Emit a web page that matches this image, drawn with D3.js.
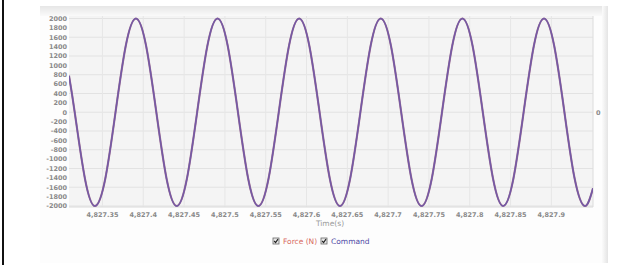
<!DOCTYPE html>
<html>
<head>
<meta charset="utf-8">
<script src="https://cdn.jsdelivr.net/npm/d3@7"></script>
<style>
  body { margin: 0; background: #fff; }
  svg { display: block; font-family: "DejaVu Sans", sans-serif; }
  .tick-label { font-size: 6.5px; font-weight: bold; fill: #8a8a8a; }
</style>
</head>
<body>
<div class="svg-wrapper"></div>
<script>
// values (time in s, value in N)
const times = [
  4827.309, 4827.316, 4827.3285, 4827.341, 4827.3535, 4827.366, 4827.3785,
  4827.391, 4827.4035, 4827.416, 4827.4285, 4827.441, 4827.4535, 4827.466, 4827.4785,
  4827.491, 4827.5035, 4827.516, 4827.5285, 4827.541, 4827.5535, 4827.566, 4827.5785,
  4827.591, 4827.6035, 4827.616, 4827.6285, 4827.641, 4827.6535, 4827.666, 4827.6785,
  4827.691, 4827.7035, 4827.716, 4827.7285, 4827.741, 4827.7535, 4827.766, 4827.7785,
  4827.791, 4827.8035, 4827.816, 4827.8285, 4827.841, 4827.8535, 4827.866, 4827.8785,
  4827.891, 4827.9035, 4827.916, 4827.9285, 4827.941, 4827.951
];
const command = [
  780, 0, -1414, -2000, -1414, 0, 1414,
  2000, 1414, 0, -1414, -2000, -1414, 0, 1414,
  2000, 1414, 0, -1414, -2000, -1414, 0, 1414,
  2000, 1414, 0, -1414, -2000, -1414, 0, 1414,
  2000, 1414, 0, -1414, -2000, -1414, 0, 1414,
  2000, 1414, 0, -1414, -2000, -1414, 0, 1414,
  2000, 1414, 0, -1414, -2000, -1620
];
const force = command.slice();

const xTicks = [4827.35, 4827.4, 4827.45, 4827.5, 4827.55, 4827.6, 4827.65, 4827.7, 4827.75, 4827.8, 4827.85, 4827.9];
const yTicks = d3.range(-2000, 2001, 200);
const yGrid = d3.range(-2000, 2001, 400);

const svg = d3.select(".svg-wrapper")
  .append("svg")
  .attr("width", 642)
  .attr("height", 265);

// left border line
svg.append("rect").attr("x", 2).attr("y", 0).attr("width", 2).attr("height", 265).attr("fill", "#111");

// card
const defs = svg.append("defs");
const grad = defs.append("linearGradient").attr("id", "topshade").attr("x1", 0).attr("x2", 0).attr("y1", 0).attr("y2", 1);
grad.append("stop").attr("offset", "0%").attr("stop-color", "#e6e6e6");
grad.append("stop").attr("offset", "100%").attr("stop-color", "#fafafa");
const sideGrad = defs.append("linearGradient").attr("id", "sideshade").attr("x1", 0).attr("x2", 1).attr("y1", 0).attr("y2", 0);
sideGrad.append("stop").attr("offset", "0%").attr("stop-color", "#fbfbfb");
sideGrad.append("stop").attr("offset", "100%").attr("stop-color", "#e4e4e4");

svg.append("rect").attr("x", 40).attr("y", 6).attr("width", 568).attr("height", 257).attr("fill", "#fdfdfd");
svg.append("rect").attr("x", 40).attr("y", 6).attr("width", 568).attr("height", 10).attr("fill", "url(#topshade)");
svg.append("rect").attr("x", 602).attr("y", 6).attr("width", 6).attr("height", 257).attr("fill", "url(#sideshade)");

const x = d3.scaleLinear().domain([4827.309, 4827.951]).range([69, 593]);
const y = d3.scaleLinear().domain([-2000, 2000]).range([206, 18.5]);

// plot background
svg.append("rect").attr("x", 69).attr("y", 16).attr("width", 524).attr("height", 191).attr("fill", "#f4f4f4");

const g = svg.append("g");

g.selectAll(".hgrid").data(yGrid).enter().append("line")
  .attr("x1", 69).attr("x2", 593)
  .attr("y1", d => y(d)).attr("y2", d => y(d))
  .attr("stroke", "#e2e2e2").attr("stroke-width", 1);

g.selectAll(".vgrid").data(xTicks).enter().append("line")
  .attr("x1", d => x(d)).attr("x2", d => x(d))
  .attr("y1", 16).attr("y2", 207)
  .attr("stroke", "#e6e6e6").attr("stroke-width", 1);

g.append("line").attr("x1", 593).attr("x2", 593).attr("y1", 16).attr("y2", 207)
  .attr("stroke", "#dcdcdc");
g.append("line").attr("x1", 69).attr("x2", 593).attr("y1", 207).attr("y2", 207)
  .attr("stroke", "#dadada");

// y tick labels
g.selectAll(".ylab").data(yTicks).enter().append("text")
  .attr("class", "tick-label")
  .attr("x", 67)
  .attr("y", d => y(d))
  .attr("dy", "0.35em")
  .attr("text-anchor", "end")
  .text(d => d);

// right axis
g.append("text").attr("class", "tick-label")
  .attr("x", 596).attr("y", y(0)).attr("dy", "0.35em")
  .text("0");

// x tick labels
g.selectAll(".xlab").data(xTicks).enter().append("text")
  .attr("class", "tick-label")
  .attr("x", d => x(d))
  .attr("y", 215)
  .attr("dy", "0.35em")
  .attr("text-anchor", "middle")
  .text(d => d3.format(",")(d));

g.append("text")
  .attr("x", 330).attr("y", 223).attr("dy", "0.35em")
  .attr("text-anchor", "middle")
  .attr("fill", "#9a9a9a")
  .style("font-size", "7.5px")
  .text("Time(s)");

// lines
const rows = times.map((t, i) => ({t: t, c: command[i], f: force[i]}));
const clip = defs.append("clipPath").attr("id", "plotclip");
clip.append("rect").attr("x", 69).attr("y", 10).attr("width", 524).attr("height", 200);

const lineForce = d3.line().x(d => x(d.t)).y(d => y(d.f)).curve(d3.curveNatural);
const lineCommand = d3.line().x(d => x(d.t)).y(d => y(d.c)).curve(d3.curveNatural);

g.append("path")
  .attr("d", lineForce(rows))
  .attr("clip-path", "url(#plotclip)")
  .attr("fill", "none")
  .attr("stroke", "#a07090")
  .attr("stroke-width", 2.1);

g.append("path")
  .attr("d", lineCommand(rows))
  .attr("clip-path", "url(#plotclip)")
  .attr("fill", "none")
  .attr("stroke", "#7359a6")
  .attr("stroke-width", 1.5);

// legend
const legend = svg.append("g");
const items = [
  {name: "Force (N)", color: "#d86a5e", x: 273},
  {name: "Command", color: "#4f4aa6", x: 321}
];
items.forEach(it => {
  const lg = legend.append("g").attr("transform", `translate(${it.x},238)`);
  lg.append("rect").attr("x", 0).attr("y", 0).attr("width", 6).attr("height", 6)
    .attr("fill", "#e8e8e8").attr("stroke", "#666").attr("stroke-width", 0.8);
  lg.append("path").attr("d", "M1.2,3 L2.6,4.6 L5,1.2").attr("fill", "none")
    .attr("stroke", "#222").attr("stroke-width", 1.2);
  lg.append("text").attr("x", 10).attr("y", 3.5).attr("dy", "0.35em")
    .attr("fill", it.color).style("font-size", "7.5px")
    .text(it.name);
});
</script>
</body>
</html>
